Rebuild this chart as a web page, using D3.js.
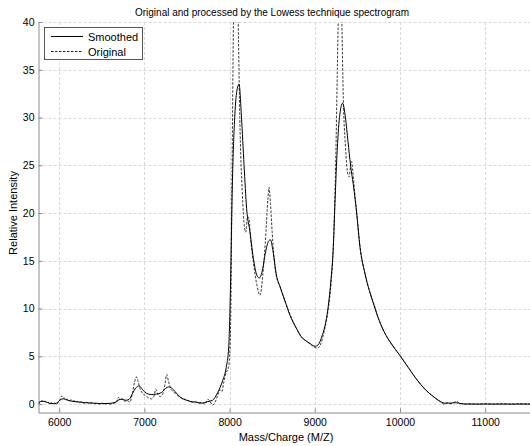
<!DOCTYPE html>
<html><head><meta charset="utf-8">
<script src="https://cdn.jsdelivr.net/npm/d3@7"></script>
<style>
body{margin:0;background:#fff;}
text{font-family:"Liberation Sans",Arial,sans-serif;}
</style></head>
<body><svg id="c" width="530" height="446"></svg>
<script>
const title = "Original and processed by the Lowess technique spectrogram";
const xLabel = "Mass/Charge (M/Z)";
const yLabel = "Relative Intensity";
const xTicks = [6000, 7000, 8000, 9000, 10000, 11000];
const yTicks = [0, 5, 10, 15, 20, 25, 30, 35, 40];
const seriesNames = ["Smoothed", "Original"];

const smoothedX = [5760,5800,5840,5880,5930,5970,6010,6050,6100,6150,6200,6250,6300,6400,6500,6600,6660,6700,6740,6780,6820,6860,6900,6940,6980,7020,7080,7140,7200,7250,7285,7330,7390,7440,7480,7530,7600,7680,7740,7800,7860,7920,7960,7990,8010,8030,8060,8090,8111,8140,8170,8200,8240,8280,8320,8349,8380,8420,8460,8480,8510,8550,8592,8650,8709,8780,8846,8900,8944,9003,9040,9080,9120,9159,9190,9218,9237,9260,9290,9327,9360,9390,9420,9452,9492,9530,9589,9640,9686,9750,9824,9900,9999,10100,10195,10300,10390,10460,10527,10586,10650,10720,10800,11000,11200,11550];
const smoothedY = [0.15,0.3,0.25,0.1,0.05,0.1,0.45,0.55,0.4,0.3,0.25,0.2,0.15,0.1,0.05,0.08,0.2,0.45,0.5,0.4,0.5,1.1,1.7,1.9,1.5,1.15,1.0,1.05,1.2,1.65,1.8,1.6,1.0,0.6,0.45,0.3,0.2,0.1,0.25,0.4,1.2,2.5,3.8,6,12,22,30,33,33.5,30,25,20.5,18,15.2,13.5,13.2,13.8,15.8,17.1,17.2,16,13.5,12.3,10.8,9.3,8.0,7.0,6.6,6.35,6.05,6.2,7,8.2,10.3,13,16.5,21,26,30,31.5,30,27.5,25,23,20,16.5,13.7,11.9,10.6,8.9,7.4,6.3,5.1,3.8,2.6,1.5,0.8,0.35,0.1,0.1,0.15,0.05,0.0,0.0,0.0,0.0];

const originalX = [5760,5780,5800,5815,5830,5850,5870,5890,5910,5930,5950,5970,5990,6010,6030,6045,6060,6080,6100,6120,6140,6160,6180,6200,6220,6240,6260,6290,6320,6350,6380,6410,6440,6470,6500,6530,6560,6600,6640,6670,6695,6720,6745,6770,6800,6830,6860,6885,6905,6925,6950,6980,7010,7040,7080,7110,7135,7160,7185,7210,7240,7262,7285,7310,7340,7380,7420,7460,7490,7520,7560,7600,7640,7680,7710,7745,7770,7800,7830,7860,7890,7910,7930,7960,7985,8000,8015,8030,8045,8070,8090,8105,8120,8150,8175,8190,8210,8228,8245,8280,8320,8357,8390,8420,8450,8463,8480,8500,8530,8560,8592,8650,8709,8780,8846,8900,8944,8990,9030,9070,9110,9159,9190,9220,9245,9265,9280,9300,9318,9335,9360,9390,9405,9420,9433,9445,9460,9492,9530,9589,9640,9686,9750,9824,9900,9999,10100,10195,10300,10390,10460,10520,10560,10590,10630,10665,10690,10720,10760,10800,10900,11000,11100,11200,11300,11400,11550];
const originalY = [0.0,0.3,0.35,0.2,0.3,0.15,0.2,0.05,0.15,0.0,0.1,-0.05,0.2,0.4,0.85,0.6,0.65,0.45,0.5,0.35,0.45,0.3,0.35,0.2,0.3,0.15,0.25,0.1,0.2,0.05,0.15,0.05,0.1,0.0,0.1,0.0,0.05,0.0,0.1,0.15,0.7,0.5,0.55,0.3,0.35,0.2,1.2,2.3,2.85,2.4,1.6,1.1,0.9,0.7,0.55,0.8,1.55,1.0,0.8,0.95,2.0,3.1,2.3,1.6,1.3,1.0,0.7,0.55,0.45,0.35,0.2,0.25,0.1,0.15,0.0,0.5,0.3,-0.1,0.2,0.9,1.5,1.3,2.2,3.3,3.8,5,10,25,40,50,46,38,30,22,18.5,18.0,19.6,19.5,17.5,14.8,12.5,11.4,13.5,17,21.5,22.7,21,18,14.5,13,12.3,10.8,9.4,8.0,7.0,6.6,6.3,6.0,5.85,6.3,7.6,10.0,12.5,17,25,35,42,47,40,32,27,24,23.8,25,25.4,24.5,23,20,16.6,13.6,11.9,10.7,8.9,7.4,6.3,5.1,3.8,2.6,1.5,0.8,0.35,0.0,0.15,0.05,0.15,0.3,0.15,0.05,0.0,0.05,0.0,0.05,0.0,0.05,0.0,0.05,0.0];

const svg = d3.select("#c");
const L = 38.5, R = 532, T = 22, B = 412.5;
const x = d3.scaleLinear().domain([5757, 11550]).range([L, R]);
const y = d3.scaleLinear().domain([-0.88, 40]).range([B, T]);

// grid
const grid = svg.append("g").attr("stroke", "#d9d9d9").attr("stroke-dasharray", "3,2").attr("stroke-width", 1);
xTicks.forEach(t => grid.append("line").attr("x1", Math.round(x(t))+0.5).attr("x2", Math.round(x(t))+0.5).attr("y1", T).attr("y2", B));
yTicks.forEach(t => grid.append("line").attr("x1", L).attr("x2", R).attr("y1", Math.round(y(t))+0.5).attr("y2", Math.round(y(t))+0.5));

// axes
const fmt = d3.format("d");
const xAxis = d3.axisBottom(x).tickValues(xTicks).tickFormat(fmt).tickSizeInner(-4).tickSizeOuter(0).tickPadding(6);
const yAxis = d3.axisLeft(y).tickValues(yTicks).tickFormat(fmt).tickSizeInner(-4).tickSizeOuter(0).tickPadding(4);
const gx = svg.append("g").attr("transform", `translate(0,${B})`).call(xAxis);
const gy = svg.append("g").attr("transform", `translate(${L},0)`).call(yAxis);
[gx, gy].forEach(g => {
  g.select(".domain").attr("stroke", "#8a8a8a");
  g.selectAll(".tick line").attr("stroke", "#8a8a8a");
  g.selectAll("text").attr("fill", "#000").style("font-size", "10.5px").style("font-family", "'Liberation Sans',Arial,sans-serif");
});

// clip
svg.append("clipPath").attr("id", "clip").append("rect").attr("x", L).attr("y", T).attr("width", R - L).attr("height", B - T);

const line = d3.line().x(d => x(d[0])).y(d => y(d[1])).curve(d3.curveMonotoneX);
const orig = originalX.map((v, i) => [v, originalY[i]]);
const smooth = smoothedX.map((v, i) => [v, smoothedY[i]]);
const plot = svg.append("g").attr("clip-path", "url(#clip)");
plot.append("path").attr("d", line(orig)).attr("fill", "none").attr("stroke", "#222").attr("stroke-width", 0.9).attr("stroke-dasharray", "2.5,1.5");
plot.append("path").attr("d", line(smooth)).attr("fill", "none").attr("stroke", "#000").attr("stroke-width", 1);

// title & labels
svg.append("text").attr("x", 272).attr("y", 16).attr("text-anchor", "middle").style("font-size", "10px").text(title);
svg.append("text").attr("x", 286).attr("y", 441).attr("text-anchor", "middle").style("font-size", "11px").text(xLabel);
svg.append("text").attr("transform", "translate(17,213) rotate(-90)").attr("text-anchor", "middle").style("font-size", "11px").text(yLabel);

// legend
const lg = svg.append("g");
lg.append("rect").attr("x", 44.5).attr("y", 27.5).attr("width", 98).attr("height", 32).attr("fill", "#fff").attr("stroke", "#555");
lg.append("line").attr("x1", 51).attr("x2", 83).attr("y1", 36.5).attr("y2", 36.5).attr("stroke", "#000");
lg.append("line").attr("x1", 51).attr("x2", 83).attr("y1", 51.5).attr("y2", 51.5).attr("stroke", "#222").attr("stroke-dasharray", "2.5,1.5");
lg.append("text").attr("x", 88).attr("y", 40.5).style("font-size", "11px").text(seriesNames[0]);
lg.append("text").attr("x", 88).attr("y", 55.5).style("font-size", "11px").text(seriesNames[1]);
</script></body></html>
